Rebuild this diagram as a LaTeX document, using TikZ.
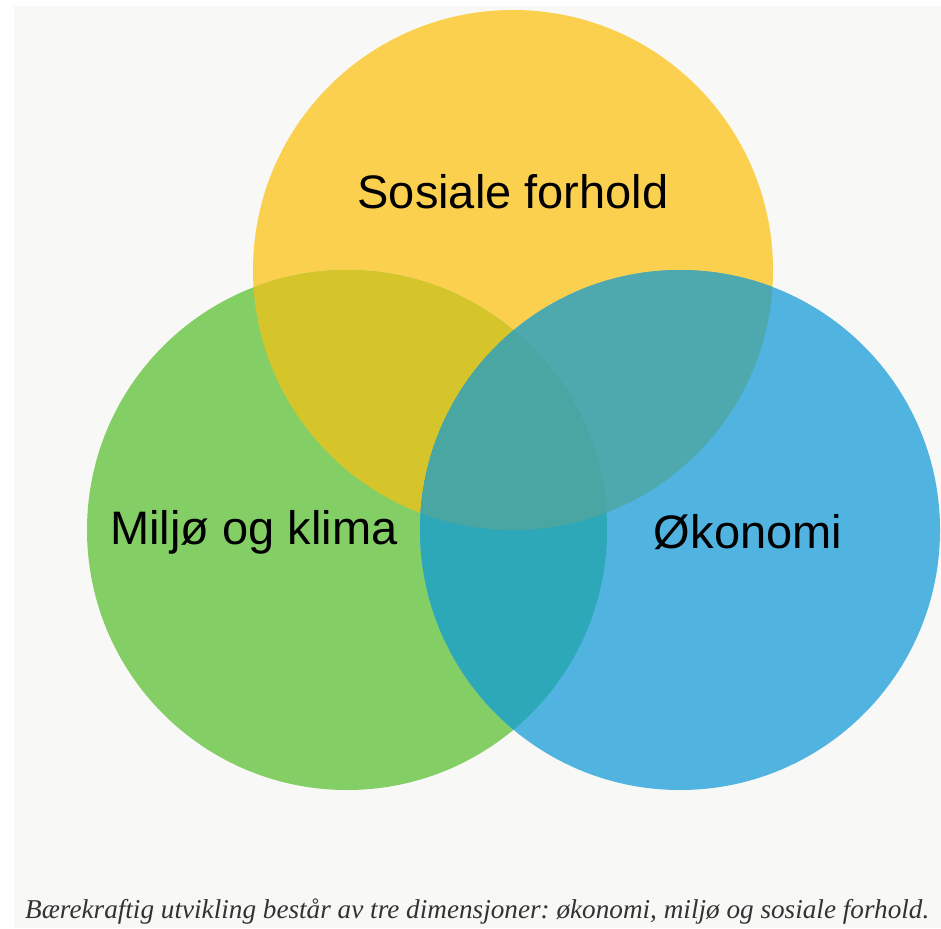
\documentclass[tikz,border=0pt]{standalone}
\usepackage{fontspec}
\setmainfont{Liberation Serif}
\setsansfont{Liberation Sans}
\usetikzlibrary{positioning}
\frenchspacing

\definecolor{bggrey}{HTML}{F8F8F6}
\definecolor{sosgul}{HTML}{FBD04E}
\definecolor{miljogronn}{HTML}{84CE66}
\definecolor{okoblaa}{HTML}{50B3E0}
\definecolor{gulgronn}{HTML}{D6C52A}
\definecolor{gulblaa}{HTML}{4DA9AE}
\definecolor{gronnblaa}{HTML}{2CA8B8}
\definecolor{midten}{HTML}{49A6A3}

\begin{document}
\begin{tikzpicture}[x=1pt,y=-1pt,
    dimlabel/.style={font=\sffamily\fontsize{47}{50}\selectfont,text=black},
    figcaption/.style={font=\itshape\fontsize{27.2}{30}\selectfont,text=black!80,anchor=base west,inner sep=0pt}]
    \useasboundingbox (0,0) rectangle (941,928);
    \fill[bggrey] (14,6) rectangle (941,928);
    % the three circles
    \fill[sosgul] (513,270) circle (260);
    \fill[miljogronn] (347,530) circle (260);
    \fill[okoblaa] (680,530) circle (260);
    % overlaps
    \begin{scope}
        \clip (513,270) circle (260);
        \fill[gulgronn] (347,530) circle (260);
        \fill[gulblaa] (680,530) circle (260);
    \end{scope}
    \begin{scope}
        \clip (347,530) circle (260);
        \fill[gronnblaa] (680,530) circle (260);
        \clip (513,270) circle (260);
        \fill[midten] (680,530) circle (260);
    \end{scope}
    % labels
    \node[dimlabel] (sosial) at (513,192) {Sosiale forhold};
    \node[dimlabel] (miljo) at (254,532) {Miljø og klima};
    \node[dimlabel] (okonomi) at (748,532) {Økonomi};
    \node[figcaption] (tekst) at (25,918) {Bærekraftig utvikling består av tre dimensjoner: økonomi, miljø og sosiale forhold.};
\end{tikzpicture}
\end{document}
